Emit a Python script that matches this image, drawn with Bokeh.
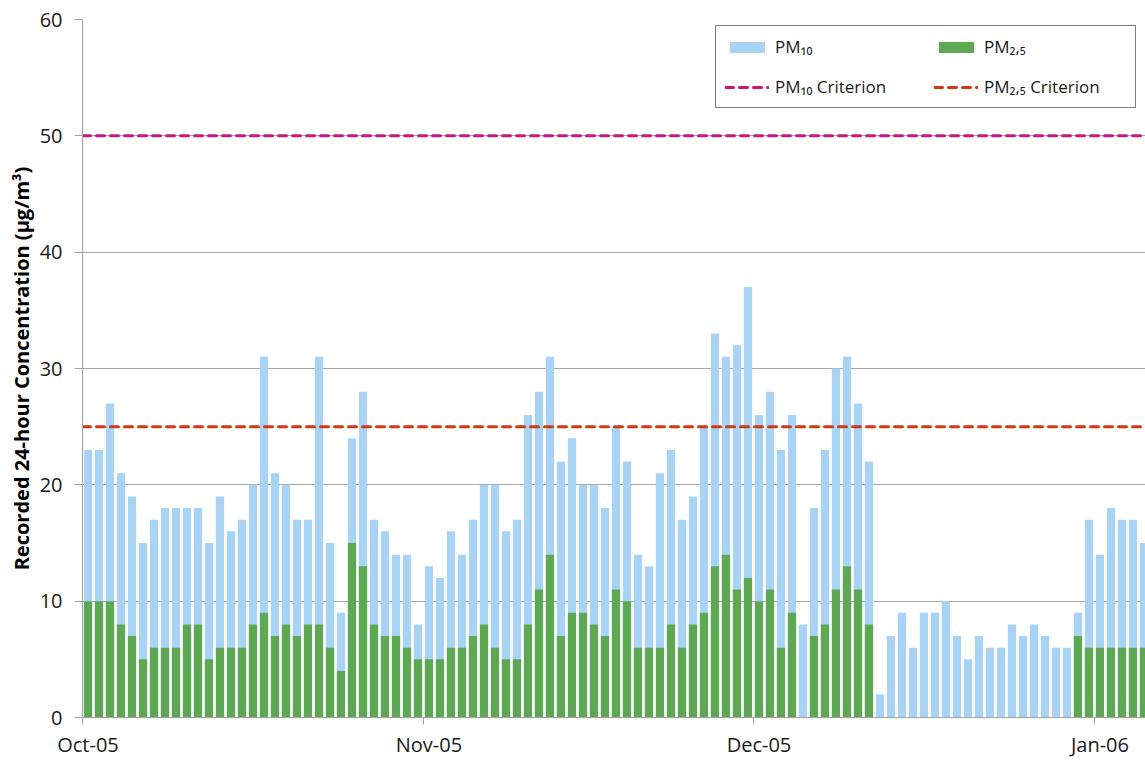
import numpy as np
import pandas as pd
from bokeh.plotting import figure
from bokeh.models import (Range1d, FixedTicker, DatetimeTickFormatter, Legend,
                          LegendItem, ColumnDataSource, SingleIntervalTicker)
from bokeh.embed import file_html
from bokeh.resources import INLINE

NaN = float("nan")

# ---- data ----
start_date = "2005-10-01"
pm10 = [
    # Oct
    23, 23, 27, 21, 19, 15, 17, 18, 18, 18, 18, 15, 19, 16, 17, 20, 31, 21, 20, 17,
    17, 31, 15, 9, 24, 28, 17, 16, 14, 14, 8,
    # Nov
    13, 12, 16, 14, 17, 20, 20, 16, 17, 26, 28, 31, 22, 24, 20, 20, 18, 25, 22, 14,
    13, 21, 23, 17, 19, 25, 33, 31, 32, 37,
    # Dec
    26, 28, 23, 26, 8, 18, 23, 30, 31, 27, 22, 2, 7, 9, 6, 9, 9, 10, 7, 5,
    7, 6, 6, 8, 7, 8, 7, 6, 6, 9, 17,
    # Jan
    14, 18, 17, 17, 15,
]
pm25 = [
    # Oct
    10, 10, 10, 8, 7, 5, 6, 6, 6, 8, 8, 5, 6, 6, 6, 8, 9, 7, 8, 7,
    8, 8, 6, 4, 15, 13, 8, 7, 7, 6, 5,
    # Nov
    5, 5, 6, 6, 7, 8, 6, 5, 5, 8, 11, 14, 7, 9, 9, 8, 7, 11, 10, 6,
    6, 6, 8, 6, 8, 9, 13, 14, 11, 12,
    # Dec
    10, 11, 6, 9, NaN, 7, 8, 11, 13, 11, 8, NaN, NaN, NaN, NaN, NaN, NaN, NaN, NaN, NaN,
    NaN, NaN, NaN, NaN, NaN, NaN, NaN, NaN, NaN, 7, 6,
    # Jan
    6, 6, 6, 6, 6,
]
pm10_criterion = 50
pm25_criterion = 25
month_starts = ["2005-10-01", "2005-11-01", "2005-12-01", "2006-01-01"]
y_max = 60
visible_days = 96.64

# ---- build ----
dates = pd.date_range(start_date, periods=len(pm10), freq="D")
centers = dates + pd.Timedelta(hours=12)
src = ColumnDataSource(dict(x=centers, pm10=np.array(pm10, dtype=float),
                            pm25=np.array(pm25, dtype=float)))

DAY_MS = 86400000
x0 = pd.Timestamp(start_date)
x1 = x0 + pd.Timedelta(days=visible_days)

p = figure(width=1145, height=760, x_axis_type="datetime",
           x_range=Range1d(x0, x1), y_range=Range1d(0, y_max),
           output_backend="svg", toolbar_location=None,
           min_border_left=82, min_border_right=0, min_border_top=19,
           min_border_bottom=43)
p.outline_line_color = None
p.background_fill_color = "white"

BLUE = "#A9D3F4"
GREEN = "#5EA753"
MAGENTA = "#C9177F"
RED = "#D03A13"

r10 = p.vbar(x="x", top="pm10", width=0.75 * DAY_MS, source=src,
             fill_color=BLUE, line_color=None)
r25 = p.vbar(x="x", top="pm25", width=0.75 * DAY_MS, source=src,
             fill_color=GREEN, line_color=None)
l10 = p.line(x=[x0, x1], y=[pm10_criterion, pm10_criterion], line_color=MAGENTA,
             line_width=3, line_dash="8 6", line_cap="round")
l25 = p.line(x=[x0, x1], y=[pm25_criterion, pm25_criterion], line_color=RED,
             line_width=3, line_dash="8 6", line_cap="round")

# axes
GRAY = "#A0A0A0"
p.yaxis.ticker = SingleIntervalTicker(interval=10, num_minor_ticks=0)
p.yaxis.major_tick_out = 8
p.yaxis.major_tick_in = 0
p.yaxis.minor_tick_line_color = None
p.yaxis.axis_line_color = GRAY
p.yaxis.major_tick_line_color = GRAY
p.yaxis.major_label_standoff = 12
p.yaxis.major_label_text_font = "Open Sans"
p.yaxis.major_label_text_font_size = "20px"
p.yaxis.major_label_text_color = "#1a1a1a"
p.yaxis.axis_label = "Recorded 24-hour Concentration (µg/m³)"
p.yaxis.axis_label_text_font = "Open Sans"
p.yaxis.axis_label_text_font_style = "bold"
p.yaxis.axis_label_text_font_size = "20px"
p.yaxis.axis_label_text_color = "black"
p.yaxis.axis_label_standoff = 2

ms = lambda t: pd.Timestamp(t).value // 10**6
p.xaxis.ticker = FixedTicker(ticks=[ms(t) + DAY_MS / 2 for t in month_starts],
                             minor_ticks=[ms(t) for t in month_starts])
fmt = "%b-%y"
p.xaxis.formatter = DatetimeTickFormatter(days=fmt, months=fmt, hours=fmt,
                                          hourmin=fmt, minutes=fmt, years=fmt)
p.xaxis.major_tick_line_color = None
p.xaxis.major_tick_out = 0
p.xaxis.major_tick_in = 0
p.xaxis.minor_tick_out = 7
p.xaxis.minor_tick_in = 0
p.xaxis.minor_tick_line_color = GRAY
p.xaxis.axis_line_color = GRAY
p.xaxis.major_label_standoff = 6
p.xaxis.major_label_text_font = "Open Sans"
p.xaxis.major_label_text_font_size = "20px"
p.xaxis.major_label_text_color = "#1a1a1a"

p.xgrid.grid_line_color = None
p.ygrid.grid_line_color = "#A6A6A6"
p.ygrid.grid_line_width = 1

legend = Legend(items=[
    LegendItem(label="PM₁₀", renderers=[r10]),
    LegendItem(label="PM₂,₅", renderers=[r25]),
    LegendItem(label="PM₁₀ Criterion", renderers=[l10]),
    LegendItem(label="PM₂,₅ Criterion", renderers=[l25]),
], orientation="horizontal", ncols=2, location=(633, 609), margin=0,
    border_line_color="black", border_line_width=1,
    background_fill_color="white", background_fill_alpha=1.0,
    padding=9, spacing=17, glyph_width=44, glyph_height=14, label_height=22,
    label_width=142, label_standoff=6, label_text_font="Open Sans",
    label_text_font_size="17px", label_text_color="#1a1a1a")
p.add_layout(legend, "center")

open("out.html", "w").write(file_html(p, INLINE))
